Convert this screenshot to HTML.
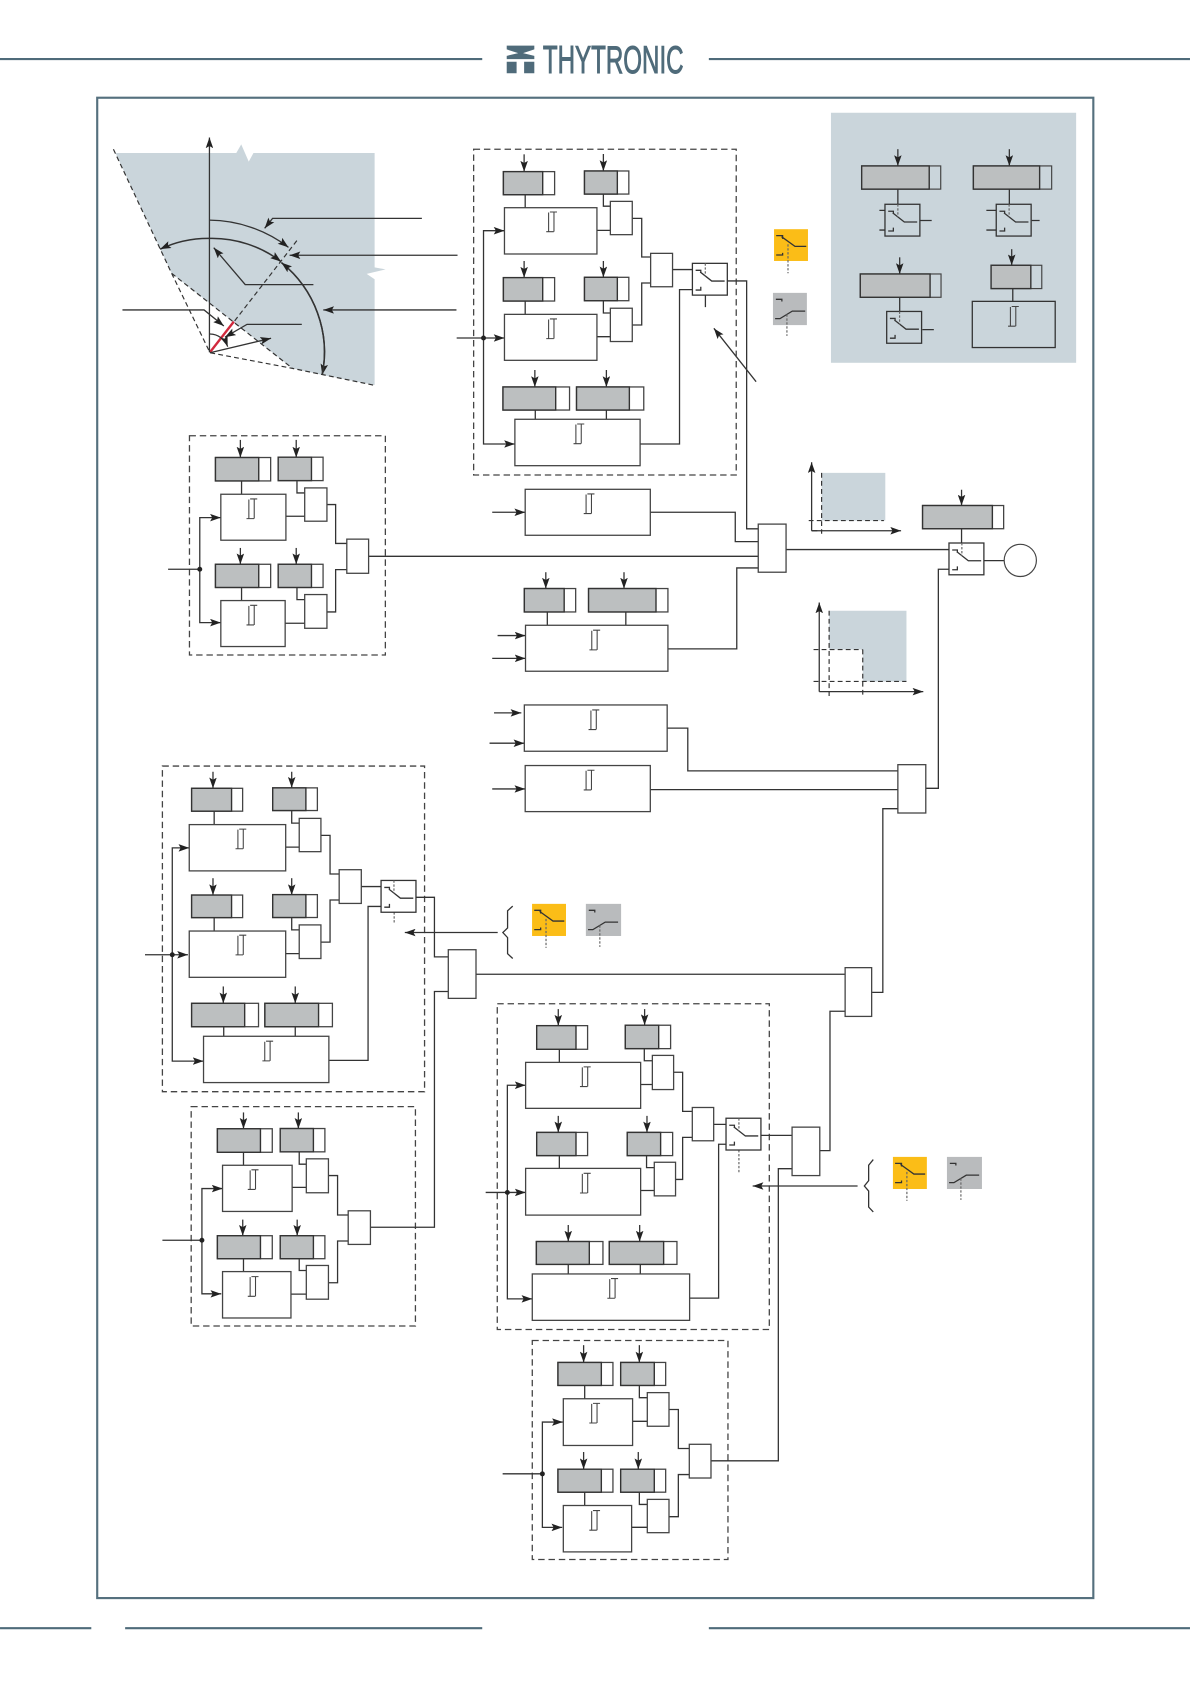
<!DOCTYPE html>
<html lang="en">
<head>
<meta charset="utf-8">
<title>Protection logic diagram</title>
<style>
html,body{margin:0;padding:0;background:#fff}
svg{display:block}
.w{fill:#fff;stroke:#444;stroke-width:1.2}
.n{fill:none;stroke:#333;stroke-width:1.2}
.g{fill:#bcbfc0;stroke:#333;stroke-width:1.3}
.d{fill:none;stroke:#444;stroke-width:1.2;stroke-dasharray:6 3.6}
.t{fill:none;stroke:#333;stroke-width:1.1;stroke-dasharray:4.5 3}
.o{fill:none;stroke:#666;stroke-width:1.1;stroke-dasharray:2.2 1.5}
.f{fill:none;stroke:#4f6b7a;stroke-width:2}
</style>
</head>
<body>
<svg xmlns="http://www.w3.org/2000/svg" width="1190" height="1684" viewBox="0 0 1108 1568">
<defs>
<marker id="a" viewBox="0 0 10 7" refX="10" refY="3.500" markerUnits="userSpaceOnUse" markerWidth="10" markerHeight="7" orient="auto"><path d="M0,0L10,3.500L0,7L2,3.500Z" fill="#222"/></marker>
<g id="i" fill="none" stroke="#444" stroke-width="1"><path d="M0,18.300H7M2.200,18.300V.5M7.200,18.300V.5M3.400,0H10"/></g>
<g id="s"><rect class="n" width="32.500" height="29.600"/><path class="n" d="M3,6.500H7.800V9M7.200,8L18,16.500H30M3,24.900H7.800V21.800"/><path class="o" d="M12,0V12"/></g>
<g id="y"><path class="n" d="M2,6H8V9M7,7L19.500,16H30M2,24H8V22"/><path class="o" d="M13,14V41"/></g>
<g id="z"><path class="n" d="M2.700,6H8.300V8M2,24H6.500L18,17H30"/><path class="o" d="M13,20V40"/></g>
</defs>
<rect width="1108" height="1568" fill="#fff"/>

<!-- header / footer / frame -->
<path class="f" d="M0,55H449M660,55H1108M0,1516H85M116.500,1516H449M660,1516H1108"/>
<rect x="90.500" y="91" width="927.500" height="1397" fill="none" stroke="#55707e" stroke-width="2"/>
<path fill="#4f6b7a" d="M471.800,42.500H497.500V46L487,49.500L497.500,52V55H471.800V52L482.500,49.500L471.800,46ZM471.800,57.500H481V68.200H471.800ZM488,57.500H497.500V68.200H488Z"/>
<text x="505.500" y="68.200" font-family="'Liberation Sans Narrow','Liberation Sans',sans-serif" font-size="36" fill="#4f6b7a" stroke="#4f6b7a" stroke-width=".9" textLength="131" lengthAdjust="spacingAndGlyphs">THYTRONIC</text>

<!-- polar diagram -->
<path fill="#cad5db" d="M107.500,142.500H220L224.600,134.400L231.600,150.500L236,142.500H348.800V249L359,250.800L341.400,255L348.800,260V358.500L300,349L272.300,343L159.800,254.500Z"/>
<path class="t" d="M105.600,139L159.800,254.500L195.500,328.400L272.300,343L347.400,358.500M159.800,254.500L272.300,343M195.500,328.400L278,222"/>
<path d="M195.500,328L217.700,299.500" stroke="#d1293d" stroke-width="2.200" fill="none"/>
<g class="n" marker-end="url(#a)">
<path d="M195,328V128"/>
<path d="M195,205A123,123 0 0 1 268.600,230.300"/>
<path stroke-width="1.400" d="M195,222A106,106 0 0 0 149.100,232"/>
<path stroke-width="1.400" d="M195,222A106,106 0 0 1 261.700,243.600"/>
<path stroke-width="1.400" d="M262,244.500A107,107 0 0 1 300,349"/>
<path stroke-width="1.400" d="M300,349A107,107 0 0 0 262,244.500"/>
<path d="M392.800,203.300H253.800L246.400,212.600"/>
<path d="M426,237.700H269.600"/>
<path d="M291.800,265H228.300L199,230.600"/>
<path d="M425,288.600H301"/>
<path d="M114,288.600H190L208.400,303.500"/>
<path d="M281,302H230L209.400,314"/>
<path d="M195.500,311A18,18 0 0 1 212,322.800"/>
<path d="M195.500,328.400L252.400,315"/>
<path d="M704,355.400L664.700,305.700"/>
</g>

<!-- legend panel -->
<rect x="773.700" y="105" width="228.300" height="232.800" fill="#cad5db"/>
<path class="n" d="M818.800,195.900H824M818.800,214.200H824M856.600,205.300H867.500M836,176V190.200M918.400,195.900H927.600M918.400,214.200H927.600M960.600,205.300H968M939.800,176V190.200M858.800,306.900H869.500M837.700,276.800V290M943,268.700V280.600"/>
<g class="n" marker-end="url(#a)"><path d="M836,138.900V154.500"/><path d="M939.800,138.900V154.500"/><path d="M837.700,239.600V255.100"/><path d="M942,232V247"/></g>
<g stroke="#444" stroke-width="1.100" fill="none"><rect x="802.300" y="154.500" width="73.600" height="21.600"/><rect x="906.300" y="154.500" width="72.900" height="21.600"/><rect x="801" y="255.100" width="75.200" height="21.700"/><rect x="922.800" y="247" width="47.200" height="21.700"/></g>
<rect class="g" x="802.300" y="154.500" width="62.900" height="21.600"/><rect class="g" x="906.300" y="154.500" width="61.700" height="21.600"/><rect class="g" x="801" y="255.100" width="65" height="21.700"/><rect class="g" x="922.800" y="247" width="37" height="21.700"/>
<use href="#s" x="824" y="190.200"/><use href="#s" x="927.600" y="190.200"/><use href="#s" x="825.600" y="290"/>
<rect class="n" x="905.300" y="280.600" width="77.200" height="43"/><use href="#i" x="938.600" y="285.400"/>

<!-- icons -->
<rect x="720.700" y="213.400" width="31.600" height="29.600" fill="#fbbd17"/><use href="#y" x="720.700" y="213.400"/>
<rect x="719.700" y="272.700" width="31.600" height="30" fill="#b9bbbd"/><use href="#z" x="719.700" y="272.700"/>
<rect x="495.400" y="841.600" width="31.600" height="29.900" fill="#fbbd17"/><use href="#y" x="495.400" y="841.600"/>
<rect x="545.500" y="841.600" width="32.800" height="29.900" fill="#b9bbbd"/><use href="#z" x="545.500" y="841.600"/>
<rect x="831.400" y="1077.200" width="31.600" height="29.900" fill="#fbbd17"/><use href="#y" x="831.400" y="1077.200"/>
<rect x="881.700" y="1077.200" width="32.600" height="29.900" fill="#b9bbbd"/><use href="#z" x="881.700" y="1077.200"/>
<path class="n" d="M477.400,843.700L472.600,848V864L468.200,868.300L472.600,873V888L477.400,892.500M813.100,1079.700L808.800,1085V1099.300L804.800,1104.300L808.800,1109V1123.900L813.100,1128.500"/>

<!-- dashed containers -->
<rect class="d" x="441" y="139" width="244.500" height="303.300"/>
<rect class="d" x="176.400" y="405.700" width="182.400" height="204.200"/>
<rect class="d" x="151.200" y="713.300" width="244.100" height="303.200"/>
<rect class="d" x="178" y="1030.400" width="208.800" height="204.300"/>
<rect class="d" x="463" y="934.600" width="253.300" height="303.300"/>
<rect class="d" x="495.600" y="1248.200" width="182.200" height="203.900"/>

<!-- wires -->
<path class="n" d="
M489,181V193.400M561.800,181V192H568.300M555.800,214.500H568.300M588.700,203.300H597.500V239.300H605.800
M489,280.300V292.700M561.800,280V291.400H568.300M555.800,313.500H568.300M588.700,302.600H597.500V263.500H605.800
M626.200,251H644.700M677.200,261.600H695.200V492.400H706
M498.400,381.800V390.400M564.600,381.800V390.400M596,413.400H632.700V269.700H644.700
M224.900,447.800V460.200M276.500,448V459H283.700M266.200,480.700H283.700M304.400,469.800H312.500V506H322.900
M224.900,547V559.200M276.500,547V558.300H283.700M265.500,580.300H283.700M304.400,569.800H312.500V530.400H322.900
M343.200,518H706
M605.500,477H684.600V504.300H706
M509.600,569.800V582.200M582.700,569.800V582.200M621.900,604.200H686V528.800H706
M731.900,511.700H883.600M895.300,492.300V505.600M916,522H935
M621.200,678H640.400V717.800H836M605.500,735.200H836
M862,734H873.700V530H883.600
M836,753H822V924H812
M199.400,755.300V767.800M271.600,755V766.400H278.600M266,788.800H278.600M298.800,777.800H307.300V813.800H315.800
M199.400,854.400V866.900M271.600,854V865.800H278.600M266,887.900H278.600M298.800,877.200H307.300V838H315.800
M336.400,825.500H354.800M208.300,956V964.900M274.900,956V964.900M306.200,987.300H342.700V844H354.800
M386.800,835.500H404.500V891H417.400M443.200,907.100H786.900
M417.400,923.200H404.500V1142.700H344.900
M226.700,1072.900V1085M278.600,1072.500V1084H285.200M272,1105.600H285.200M305.800,1094.600H314.300V1131.300H324.200
M226.700,1172V1184M278.600,1172V1183H285.200M270.900,1205H285.200M305.800,1194.400H314.300V1155.500H324.200
M520.800,977V989.200M599.900,976.500V987.700H607.400M596.500,1009.800H607.400M627.200,998.400H635.600V1034.800H644.600
M520.800,1076V1087.900M602,1076V1087.200H609.200M596.500,1108.500H609.200M629,1098.200H635.600V1059H644.600
M664.500,1046.900H676M529.100,1177.300V1186.200M596.200,1177.300V1186.200M642.100,1208.700H669.100V1065.400H676
M708.200,1057.200H737.500M763.300,1071.400H772.800V941.600H786.900
M737.500,1088.200H724.700V1360.200H662
M544.400,1290V1302.400M595.300,1290V1301.400H602.700M589,1323.400H602.700M622.900,1312.400H631.600V1348.700H641.800
M544.400,1389.400V1401.800M595.300,1389.400V1400.800H602.700M588.100,1422.100H602.700M622.900,1412.200H631.600V1373H641.800
M656.800,275V286
"/>
<path class="o" d="M367,849.400V860.500M688,1070.800V1093"/>

<!-- arrows -->
<g class="n" marker-end="url(#a)">
<path d="M425.200,314.700H469.700"/><path d="M450.200,314.700V214.800H469.700"/><path d="M450.200,314.700V413.400H479.400"/>
<path d="M488,143.700V159.800"/><path d="M561.800,143.400V159.200"/><path d="M488,243V258.500"/><path d="M561.800,243V258.200"/><path d="M498,344.500V360.300"/><path d="M564.600,344.500V360.300"/>
<path d="M186,530V482H205.600"/><path d="M186,530V579.700H205.600"/>
<path d="M223.800,409.600V426"/><path d="M275.800,409.600V426"/><path d="M223.800,510.200V525.400"/><path d="M275.800,510.200V525.400"/>
<path d="M458.300,477H489"/><path d="M508.200,532.800V548"/><path d="M581,532.800V548"/>
<path d="M463.300,591.800H489.300"/><path d="M458.300,613H489.300"/><path d="M460,663.800H485.400"/><path d="M455.800,692H488.200"/><path d="M458.300,734.600H489"/>
<path d="M895.300,456V470.700"/>
<path d="M135,889H175"/><path d="M160.400,889V789.500H176.200"/><path d="M160.400,889V988H189.500"/>
<path d="M198.300,718.600V734"/><path d="M271.600,718.600V733.500"/><path d="M198.300,817.700V833.400"/><path d="M271.600,817.700V833.400"/><path d="M207.900,918.500V934.200"/><path d="M274.900,918.500V934.200"/>
<path d="M463.400,868.300H376.900"/>
<path d="M188,1154.800V1106.700H207.200"/><path d="M188,1154.800V1204.700H206"/>
<path d="M226.700,1035.800V1051"/><path d="M277.800,1035.800V1051"/><path d="M226,1135.600V1150.600"/><path d="M276.700,1135.600V1150.600"/>
<path d="M452.200,1110.300H489.400"/><path d="M472.400,1110.300V1010.500H489.400"/><path d="M472.400,1110.300V1209.400H495.600"/>
<path d="M519.800,939.600V955"/><path d="M600.200,939.600V954.500"/><path d="M519.800,1039V1054.400"/><path d="M602.400,1039V1054.400"/><path d="M529.100,1140.600V1156"/><path d="M595.600,1140.600V1156"/>
<path d="M798.500,1104.300H700.800"/>
<path d="M505,1372.300V1324.100H524"/><path d="M505,1372.300V1422.200H523.500"/>
<path d="M543.400,1252.500V1268.600"/><path d="M595.300,1252.500V1268.600"/><path d="M543.400,1352V1368"/><path d="M594.300,1352V1368"/>
</g>
<path class="n" d="M156.500,530H186M151.200,1154.800H188M468,1372.300H505"/>
<g fill="#222"><circle cx="450.200" cy="314.700" r="2.300"/><circle cx="186" cy="530" r="2.300"/><circle cx="160.400" cy="889" r="2.300"/><circle cx="188" cy="1154.800" r="2.300"/><circle cx="472.400" cy="1110.300" r="2.300"/><circle cx="505" cy="1372.300" r="2.300"/></g>

<!-- logic boxes -->
<g class="w">
<rect x="469.700" y="193.400" width="86.100" height="43.100"/><rect x="469.700" y="292.700" width="86.100" height="42.800"/><rect x="479.400" y="390.400" width="116.600" height="43.200"/>
<rect x="568.300" y="187.500" width="20.400" height="31"/><rect x="568.300" y="287" width="20.400" height="31"/><rect x="605.800" y="235.900" width="20.400" height="31.100"/>
<rect x="205.600" y="460.200" width="60.600" height="42.800"/><rect x="205.600" y="559.200" width="59.900" height="42.800"/>
<rect x="283.700" y="454.300" width="20.700" height="31"/><rect x="283.700" y="553.600" width="20.700" height="31.400"/><rect x="322.900" y="502" width="20.300" height="31.800"/>
<rect x="489" y="455.600" width="116.500" height="42.800"/><rect x="489.300" y="582.200" width="132.600" height="42.800"/><rect x="488.200" y="656.400" width="133" height="43.100"/><rect x="489" y="712.800" width="116.500" height="42.900"/>
<rect x="706" y="488" width="25.900" height="44.800"/><rect x="836" y="712" width="26" height="45"/><rect x="786.900" y="901" width="24.700" height="45.400"/><rect x="417.400" y="884.300" width="25.800" height="45.300"/><rect x="737.500" y="1049.500" width="25.800" height="45.100"/>
<rect x="176.200" y="767.800" width="89.800" height="43.100"/><rect x="176.200" y="866.900" width="89.800" height="43.100"/><rect x="189.500" y="964.900" width="116.700" height="43.100"/>
<rect x="278.600" y="762" width="20.200" height="31"/><rect x="278.600" y="861.200" width="20.200" height="31.300"/><rect x="315.800" y="809.800" width="20.600" height="31.400"/>
<rect x="207.200" y="1085" width="64.800" height="43"/><rect x="207.200" y="1184" width="63.700" height="43.200"/>
<rect x="285.200" y="1079" width="20.600" height="31.600"/><rect x="285.200" y="1178.300" width="20.600" height="31.400"/><rect x="324.200" y="1127.400" width="20.700" height="31.300"/>
<rect x="489.400" y="989.200" width="107.100" height="42.800"/><rect x="489.400" y="1087.900" width="107.100" height="43.500"/><rect x="495.600" y="1186.200" width="146.500" height="43.200"/>
<rect x="607.400" y="982.700" width="19.800" height="31.800"/><rect x="609.200" y="1082.200" width="19.800" height="31.300"/><rect x="644.600" y="1031.200" width="19.900" height="31"/>
<rect x="524.500" y="1302.400" width="64.500" height="43.500"/><rect x="524.500" y="1401.800" width="63.600" height="43.200"/>
<rect x="602.700" y="1296.700" width="20.200" height="31.300"/><rect x="602.700" y="1396.100" width="20.200" height="31"/><rect x="641.800" y="1344.800" width="20.200" height="31.400"/>
</g>

<!-- settings: white tail -->
<g class="w">
<rect x="468.700" y="159.800" width="47.700" height="21.500"/><rect x="544.200" y="159.200" width="41.300" height="21.500"/><rect x="468.700" y="258.500" width="47.700" height="21.800"/><rect x="544.200" y="258.200" width="41.300" height="21.800"/><rect x="468.300" y="360.300" width="62" height="21.500"/><rect x="536.800" y="360.300" width="62.600" height="21.500"/>
<rect x="200.600" y="426" width="51.400" height="21.800"/><rect x="259" y="425.700" width="41.800" height="21.800"/><rect x="200.600" y="525.400" width="51.400" height="21.600"/><rect x="259" y="525.400" width="41.800" height="21.600"/>
<rect x="488.200" y="548" width="47.800" height="21.800"/><rect x="548" y="548" width="73.900" height="21.800"/>
<rect x="859" y="470.700" width="75.500" height="21.600"/>
<rect x="178.400" y="734" width="47.500" height="21.300"/><rect x="253.900" y="733.600" width="41.600" height="21.100"/><rect x="178.400" y="833.400" width="47.500" height="21"/><rect x="253.900" y="833" width="41.600" height="21.300"/><rect x="178.400" y="934.200" width="62.300" height="21.800"/><rect x="246.600" y="934.200" width="62.900" height="21.800"/>
<rect x="202.400" y="1051" width="51.100" height="21.900"/><rect x="260.900" y="1050.800" width="41.600" height="21.700"/><rect x="202.400" y="1150.600" width="51.100" height="21.400"/><rect x="260.900" y="1150.600" width="41.600" height="21.400"/>
<rect x="499.700" y="955" width="47.400" height="22"/><rect x="582.200" y="954.600" width="42.200" height="21.800"/><rect x="499.700" y="1054.400" width="47.400" height="21.600"/><rect x="584" y="1054.400" width="42.300" height="21.600"/><rect x="499.400" y="1156" width="62" height="21.300"/><rect x="567.300" y="1156" width="63" height="21.300"/>
<rect x="519.500" y="1268.600" width="51.200" height="21.400"/><rect x="577.900" y="1268.600" width="41.900" height="21.400"/><rect x="519.500" y="1368" width="51.200" height="21.400"/><rect x="577.900" y="1368" width="41.900" height="21.400"/>
</g>
<!-- settings: grey part -->
<g class="g">
<rect x="468.700" y="159.800" width="36.600" height="21.500"/><rect x="544.200" y="159.200" width="30.600" height="21.500"/><rect x="468.700" y="258.500" width="36.600" height="21.800"/><rect x="544.200" y="258.200" width="30.600" height="21.800"/><rect x="468.300" y="360.300" width="49.100" height="21.500"/><rect x="536.800" y="360.300" width="49.200" height="21.500"/>
<rect x="200.600" y="426" width="40.300" height="21.800"/><rect x="259" y="425.700" width="31" height="21.800"/><rect x="200.600" y="525.400" width="40.300" height="21.600"/><rect x="259" y="525.400" width="31" height="21.600"/>
<rect x="488.200" y="548" width="37.100" height="21.800"/><rect x="548" y="548" width="62.800" height="21.800"/>
<rect x="859" y="470.700" width="65" height="21.600"/>
<rect x="178.400" y="734" width="37.200" height="21.300"/><rect x="253.900" y="733.600" width="30.900" height="21.100"/><rect x="178.400" y="833.400" width="37.200" height="21"/><rect x="253.900" y="833" width="30.900" height="21.300"/><rect x="178.400" y="934.200" width="49.400" height="21.800"/><rect x="246.600" y="934.200" width="50" height="21.800"/>
<rect x="202.400" y="1051" width="40.100" height="21.900"/><rect x="260.900" y="1050.800" width="30.900" height="21.700"/><rect x="202.400" y="1150.600" width="40.100" height="21.400"/><rect x="260.900" y="1150.600" width="30.900" height="21.400"/>
<rect x="499.700" y="955" width="36.600" height="22"/><rect x="582.200" y="954.600" width="31.100" height="21.800"/><rect x="499.700" y="1054.400" width="36.600" height="21.600"/><rect x="584" y="1054.400" width="31.100" height="21.600"/><rect x="499.400" y="1156" width="49.300" height="21.300"/><rect x="567.300" y="1156" width="50.600" height="21.300"/>
<rect x="519.500" y="1268.600" width="40.400" height="21.400"/><rect x="577.900" y="1268.600" width="31.300" height="21.400"/><rect x="519.500" y="1368" width="40.400" height="21.400"/><rect x="577.900" y="1368" width="31.300" height="21.400"/>
</g>

<!-- switches -->
<rect x="644.700" y="245.200" width="32.500" height="29.600" fill="#fff"/><use href="#s" x="644.700" y="245.200"/>
<rect x="883.600" y="505.600" width="32.500" height="29.600" fill="#fff"/><use href="#s" x="883.600" y="505.600"/>
<rect x="354.800" y="819.800" width="32.500" height="29.600" fill="#fff"/><use href="#s" x="354.800" y="819.800"/>
<rect x="676" y="1041.200" width="32.500" height="29.600" fill="#fff"/><use href="#s" x="676" y="1041.200"/>
<circle cx="950" cy="521.800" r="15" fill="#fff" stroke="#444" stroke-width="1.100"/>

<!-- integrator marks -->
<use href="#i" x="508.600" y="197.400"/><use href="#i" x="508.600" y="297"/><use href="#i" x="534" y="394.800"/>
<use href="#i" x="229.500" y="464.600"/><use href="#i" x="229.500" y="563.600"/>
<use href="#i" x="543.500" y="459.900"/><use href="#i" x="548.800" y="586.800"/><use href="#i" x="548" y="661"/><use href="#i" x="543.500" y="717.200"/>
<use href="#i" x="219.300" y="772"/><use href="#i" x="219.300" y="870.800"/><use href="#i" x="244.300" y="969.500"/>
<use href="#i" x="230.700" y="1089.200"/><use href="#i" x="230.700" y="1188.700"/>
<use href="#i" x="540" y="993.400"/><use href="#i" x="540" y="1092.500"/><use href="#i" x="565.500" y="1190.500"/>
<use href="#i" x="548.700" y="1306.700"/><use href="#i" x="548.700" y="1406.500"/>

<!-- graphs -->
<rect x="765" y="440.300" width="59.300" height="44.400" fill="#cad5db"/>
<path class="n" d="M755.700,494.200H761"/>
<g class="n" marker-end="url(#a)"><path d="M755.700,494.200V430.400"/><path d="M755.700,494.200H839"/></g>
<path class="t" d="M765,440.300V497M753,484.700H823"/>
<path fill="#cad5db" d="M772,568.700H844V634.500H803.300V604.800H772Z"/>
<g class="n" marker-end="url(#a)"><path d="M762.800,644V561"/><path d="M762.800,644H859.700"/></g>
<path class="t" d="M757.500,604.800H803M757.500,634.500H844M772,568.700V648M803.300,604.800V648"/>
</svg>
</body>
</html>
